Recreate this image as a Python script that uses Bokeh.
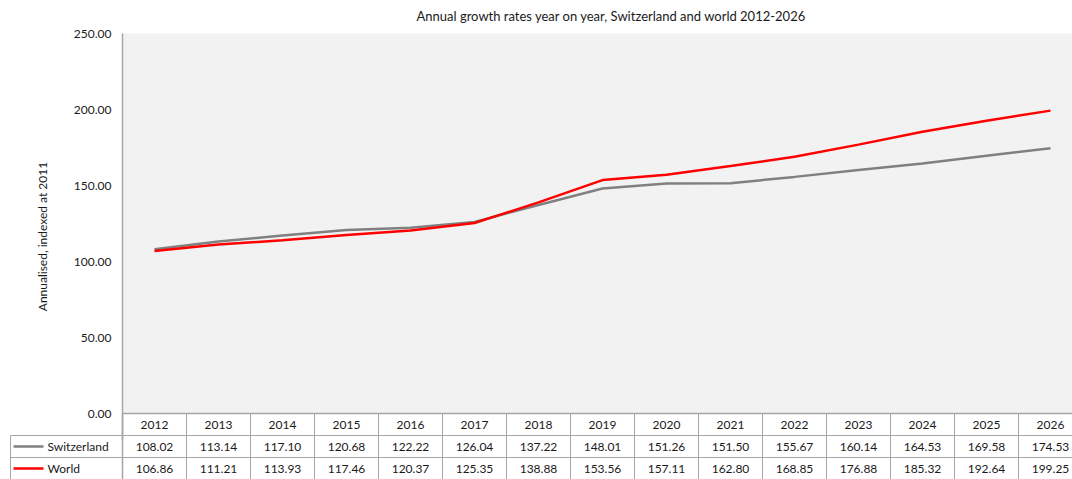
from bokeh.plotting import figure
from bokeh.models import (Range1d, FixedTicker, NumeralTickFormatter, ColumnDataSource,
                          BoxAnnotation)
from bokeh.embed import file_html
from bokeh.resources import INLINE
from bokeh.core.properties import value

# ---- data ----
years = [2012, 2013, 2014, 2015, 2016, 2017, 2018, 2019, 2020, 2021, 2022, 2023, 2024, 2025, 2026]
switzerland = [108.02, 113.14, 117.10, 120.68, 122.22, 126.04, 137.22, 148.01, 151.26, 151.50,
               155.67, 160.14, 164.53, 169.58, 174.53]
world = [106.86, 111.21, 113.93, 117.46, 120.37, 125.35, 138.88, 153.56, 157.11, 162.80,
         168.85, 176.88, 185.32, 192.64, 199.25]
series_names = ["Switzerland", "World"]
series_values = [switzerland, world]
series_colors = ["#808080", "#ff0000"]
y_ticks = [0, 50, 100, 150, 200, 250]
y_max = 250
title_text = "Annual growth rates year on year, Switzerland and world 2012-2026"
y_label = "Annualised, indexed at 2011"

# ---- layout constants (pixels) ----
FONT = value("Lato")
W = 1072
H = 479
AXIS_X = 122        # pixel x of the value axis
TABLE_LEFT = 10     # pixel x of the table's left border
FRAME_LEFT = 9
PLOT_TOP = 33       # pixel y of value 250
PAD_PX = 8          # frame extends above the plot area so the top tick label is not clipped
TOP = PLOT_TOP - PAD_PX
ROW_PX = 22
N_ROWS = 3
CAT_PX = 64
PLOT_PX = H - PLOT_TOP - N_ROWS * ROW_PX
PX_PER_UNIT = PLOT_PX / y_max
ROW_U = ROW_PX / PX_PER_UNIT
LABEL_BOTTOM_PX = 439   # lower end of axis bounds (centres the axis title like the reference)
BORDER = "#a6a6a6"
TXT = "#1a1a1a"

n = len(years)
xs = [i + 0.5 for i in range(n)]
x_end = (W - AXIS_X) / CAT_PX
x_start = -(AXIS_X - FRAME_LEFT) / CAT_PX
x_tab = -(AXIS_X - TABLE_LEFT) / CAT_PX
y_bot = -N_ROWS * ROW_U
y_top = y_max + PAD_PX / PX_PER_UNIT
axis_low = -(LABEL_BOTTOM_PX - (PLOT_TOP + PLOT_PX)) / PX_PER_UNIT

def px(xpix):
    return (xpix - AXIS_X) / CAT_PX

p = figure(width=W, height=H, x_range=Range1d(x_start, x_end), y_range=Range1d(y_bot, y_top),
           output_backend="svg", toolbar_location=None,
           min_border_left=FRAME_LEFT, min_border_right=0, min_border_top=TOP, min_border_bottom=0,
           background_fill_color="white", border_fill_color="white",
           outline_line_color=None, title=title_text)
p.title.text_font = "Lato"
p.title.text_font_size = "13px"
p.title.text_font_style = "normal"
p.title.text_color = TXT
p.title.align = "left"
p.title.offset = 407
p.title.standoff = 4
p.xaxis.visible = False
p.grid.visible = False

yax = p.yaxis[0]
yax.fixed_location = 0
yax.bounds = (axis_low, y_max)
yax.ticker = FixedTicker(ticks=y_ticks)
yax.formatter = NumeralTickFormatter(format="0.00")
yax.major_tick_line_color = None
yax.minor_tick_line_color = None
yax.major_tick_out = 0
yax.major_tick_in = 0
yax.minor_tick_out = 0
yax.major_label_standoff = 11
yax.major_label_text_font = "Lato"
yax.major_label_text_font_size = "12px"
yax.major_label_text_color = TXT
yax.axis_label = y_label
yax.axis_label_standoff = 21
yax.axis_label_text_font = "Lato"
yax.axis_label_text_font_size = "12px"
yax.axis_label_text_font_style = "normal"
yax.axis_label_text_color = TXT
yax.axis_line_color = BORDER
yax.axis_line_width = 1.5

# plot-area background
p.add_layout(BoxAnnotation(left=0, right=x_end, bottom=0, top=y_max, fill_color="#f2f2f2",
                           fill_alpha=1, line_color=None, level="underlay"))

for name, vals, col in zip(series_names, series_values, series_colors):
    p.line(xs, vals, line_color=col, line_width=2.5)

# ---- data table under the plot ----
vx = list(range(n))
p.segment(x0=vx, y0=[0] * n, x1=vx, y1=[y_bot] * n, line_color=BORDER, line_width=1)
p.segment(x0=[0], y0=[0], x1=[0], y1=[y_bot], line_color=BORDER, line_width=1.5)
hy = [-(k + 1) * ROW_U for k in range(N_ROWS - 1)]
p.segment(x0=[x_tab] * len(hy), y0=hy, x1=[x_end] * len(hy), y1=hy, line_color=BORDER, line_width=1)
p.segment(x0=[0], y0=[0], x1=[x_end], y1=[0], line_color=BORDER, line_width=1.5)
p.segment(x0=[x_tab], y0=[-ROW_U], x1=[x_tab], y1=[y_bot], line_color=BORDER, line_width=1)

hsrc = ColumnDataSource(dict(x=xs, y=[-0.5 * ROW_U] * n, t=[str(y) for y in years]))
p.text(x="x", y="y", text="t", source=hsrc, text_align="center", text_baseline="middle",
       text_font=FONT, text_font_size="12px", text_color=TXT)
for k, (name, vals, col) in enumerate(zip(series_names, series_values, series_colors)):
    yc = -(k + 1.5) * ROW_U
    src = ColumnDataSource(dict(x=xs, y=[yc] * n, t=[f"{v:.2f}" for v in vals]))
    p.text(x="x", y="y", text="t", source=src, text_align="center", text_baseline="middle",
           text_font=FONT, text_font_size="12px", text_color=TXT)
    # legend key
    p.segment(x0=[px(13)], y0=[yc], x1=[px(43)], y1=[yc], line_color=col, line_width=2.5)
    p.text(x=[px(47)], y=[yc], text=[name], text_align="left", text_baseline="middle",
           text_font=FONT, text_font_size="12px", text_color=TXT)

open("out.html", "w").write(file_html(p, INLINE))
